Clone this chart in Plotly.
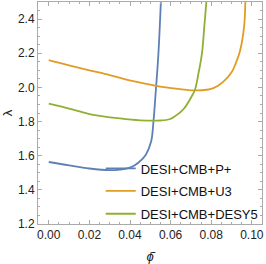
import plotly.graph_objects as go

# Data
phi_p = [0.0, 0.01, 0.02, 0.03, 0.035, 0.04, 0.0441, 0.0478, 0.0504, 0.0516, 0.0524, 0.054, 0.0552]
lam_p = [1.563, 1.543, 1.525, 1.515, 1.518, 1.53, 1.559, 1.606, 1.683, 1.806, 1.929, 2.2, 2.5]

phi_u = [0.0, 0.01, 0.02, 0.03, 0.0416, 0.0549, 0.0647, 0.0729, 0.0811, 0.086, 0.0901, 0.0926, 0.0942, 0.0962, 0.0968]
lam_u = [2.16, 2.129, 2.10, 2.072, 2.036, 2.005, 1.99, 1.982, 1.996, 2.034, 2.09, 2.157, 2.214, 2.357, 2.5]

phi_d = [0.0, 0.01, 0.02, 0.0351, 0.045, 0.0549, 0.0598, 0.0614, 0.0663, 0.0704, 0.072, 0.0737, 0.0749, 0.0756, 0.0766, 0.0776]
lam_d = [1.905, 1.876, 1.844, 1.818, 1.807, 1.806, 1.815, 1.825, 1.872, 1.948, 1.986, 2.081, 2.157, 2.214, 2.357, 2.5]

names = ["DESI+CMB+P+", "DESI+CMB+U3", "DESI+CMB+DESY5"]
colors = ["#5E81B5", "#E19C24", "#8FB032"]

x_ticks = [0.00, 0.02, 0.04, 0.06, 0.08, 0.10]
y_ticks = [1.2, 1.4, 1.6, 1.8, 2.0, 2.2, 2.4]

FONT = "Liberation Sans, Arial, sans-serif"
fig = go.Figure()
series = [(phi_p, lam_p), (phi_u, lam_u), (phi_d, lam_d)]
legends = ["legend", "legend2", "legend3"]
for (xs, ys), n, c, lg in zip(series, names, colors, legends):
    fig.add_trace(go.Scatter(x=xs, y=ys, mode="lines", name=n,
                             line=dict(color=c, width=1.8, shape="spline", smoothing=1.0),
                             legend=lg))

leg_common = dict(xanchor="left", yanchor="middle", bgcolor="rgba(0,0,0,0)",
                  font=dict(family=FONT, size=13, color="#111"), itemwidth=30)
ly = [0.25, 0.149, 0.046]
fig.update_layout(
    width=266, height=264,
    margin=dict(l=38, r=4, t=1, b=36),
    plot_bgcolor="white", paper_bgcolor="white",
    showlegend=True,
    legend=dict(x=0.28, y=ly[0], **leg_common),
    legend2=dict(x=0.28, y=ly[1], **leg_common),
    legend3=dict(x=0.28, y=ly[2], **leg_common),
)
axis_common = dict(ticks="inside", ticklen=4, tickcolor="#aaaaaa", showline=True,
                   linecolor="#aaaaaa", linewidth=1, mirror="allticks", showgrid=False,
                   zeroline=False, tickfont=dict(family=FONT, size=12, color="#222"))
fig.update_xaxes(range=[-0.0053, 0.105], tickvals=x_ticks, tickformat=".2f",
                 minor=dict(ticks="inside", ticklen=2, dtick=0.005, tick0=0, tickcolor="#aaaaaa"),
                 title=dict(text="<i>ϕ̄</i>", font=dict(family=FONT, size=13, color="#222"), standoff=11),
                 **axis_common)
fig.update_yaxes(range=[1.2, 2.5], tickvals=y_ticks, tickformat=".1f",
                 minor=dict(ticks="inside", ticklen=2, dtick=0.05, tick0=1.2, tickcolor="#aaaaaa"),
                 title=dict(text="λ", font=dict(family=FONT, size=13, color="#222"), standoff=6),
                 **axis_common)

fig.write_html("out.html", config={"displayModeBar": False},
               post_script="document.body.style.margin='0';document.body.style.overflow='hidden';")
